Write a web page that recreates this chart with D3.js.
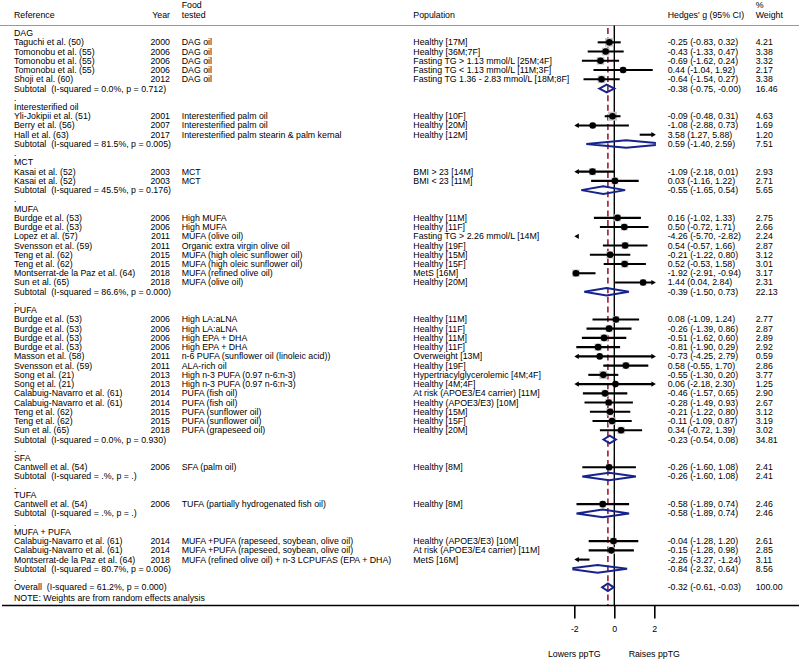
<!DOCTYPE html>
<html><head><meta charset="utf-8">
<script src="https://cdn.jsdelivr.net/npm/d3@7"></script>
<style>
body{margin:0;background:#fff}
text{font-family:"Liberation Sans",Arial,Helvetica,sans-serif;font-size:8.8px;fill:#000;white-space:pre}
</style>
</head><body>
<svg id="chart" width="799" height="660"></svg>
<script>
const groupNames = ["DAG", "Interesterified oil", "MCT", "MUFA", "PUFA", "SFA", "TUFA", "MUFA + PUFA"];

const studyGroup = [0,0,0,0,0, 1,1,1, 2,2, 3,3,3,3,3,3,3,3, 4,4,4,4,4,4,4,4,4,4,4,4,4, 5, 6, 7,7,7];
const studyRefs = [
  "Taguchi et al. (50)", "Tomonobu et al. (55)", "Tomonobu et al. (55)", "Tomonobu et al. (55)", "Shoji et al. (60)",
  "Yli-Jokipii et al. (51)", "Berry et al. (56)", "Hall et al. (63)",
  "Kasai et al. (52)", "Kasai et al. (52)",
  "Burdge et al. (53)", "Burdge et al. (53)", "Lopez et al. (57)", "Svensson et al. (59)", "Teng et al. (62)", "Teng et al. (62)", "Montserrat-de la Paz et al. (64)", "Sun et al. (65)",
  "Burdge et al. (53)", "Burdge et al. (53)", "Burdge et al. (53)", "Burdge et al. (53)", "Masson et al. (58)", "Svensson et al. (59)", "Song et al. (21)", "Song et al. (21)", "Calabuig-Navarro et al. (61)", "Calabuig-Navarro et al. (61)", "Teng et al. (62)", "Teng et al. (62)", "Sun et al. (65)",
  "Cantwell et al. (54)",
  "Cantwell et al. (54)",
  "Calabuig-Navarro et al. (61)", "Calabuig-Navarro et al. (61)", "Montserrat-de la Paz et al. (64)"
];
const studyYears = [
  2000, 2006, 2006, 2006, 2012,
  2001, 2007, 2017,
  2003, 2003,
  2006, 2006, 2011, 2011, 2015, 2015, 2018, 2018,
  2006, 2006, 2006, 2006, 2011, 2011, 2013, 2013, 2014, 2014, 2015, 2015, 2018,
  2006,
  2006,
  2014, 2014, 2018
];
const studyFoods = [
  "DAG oil", "DAG oil", "DAG oil", "DAG oil", "DAG oil",
  "Interesterified palm oil", "Interesterified palm oil", "Interesterified palm stearin & palm kernal",
  "MCT", "MCT",
  "High MUFA", "High MUFA", "MUFA (olive oil)", "Organic extra virgin olive oil", "MUFA (high oleic sunflower oil)", "MUFA (high oleic sunflower oil)", "MUFA (refined olive oil)", "MUFA (olive oil)",
  "High LA:aLNA", "High LA:aLNA", "High EPA + DHA", "High EPA + DHA", "n-6 PUFA (sunflower oil (linoleic acid))", "ALA-rich oil", "High n-3 PUFA (0.97 n-6:n-3)", "High n-3 PUFA (0.97 n-6:n-3)", "PUFA (fish oil)", "PUFA (fish oil)", "PUFA (sunflower oil)", "PUFA (sunflower oil)", "PUFA (grapeseed oil)",
  "SFA (palm oil)",
  "TUFA (partially hydrogenated fish oil)",
  "MUFA +PUFA (rapeseed, soybean, olive oil)", "MUFA +PUFA (rapeseed, soybean, olive oil)", "MUFA (refined olive oil) + n-3 LCPUFAS (EPA + DHA)"
];
const studyPops = [
  "Healthy [17M]", "Healthy [36M;7F]", "Fasting TG > 1.13 mmol/L [25M;4F]", "Fasting TG < 1.13 mmol/L [11M;3F]", "Fasting TG 1.36 - 2.83 mmol/L [18M;8F]",
  "Healthy [10F]", "Healthy [20M]", "Healthy [12M]",
  "BMI > 23 [14M]", "BMI < 23 [11M]",
  "Healthy [11M]", "Healthy [11F]", "Fasting TG > 2.26 mmol/L [14M]", "Healthy [19F]", "Healthy [15M]", "Healthy [15F]", "MetS [16M]", "Healthy [20M]",
  "Healthy [11M]", "Healthy [11F]", "Healthy [11M]", "Healthy [11F]", "Overweight [13M]", "Healthy [19F]", "Hypertriacylglycerolemic [4M;4F]", "Healthy [4M;4F]", "At risk (APOE3/E4 carrier) [11M]", "Healthy (APOE3/E3) [10M]", "Healthy [15M]", "Healthy [15F]", "Healthy [20M]",
  "Healthy [8M]",
  "Healthy [8M]",
  "Healthy (APOE3/E3) [10M]", "At risk (APOE3/E4 carrier) [11M]", "MetS [16M]"
];
const studyES = [
  -0.25, -0.43, -0.69, 0.44, -0.64,
  -0.09, -1.08, 3.58,
  -1.09, 0.03,
  0.16, 0.50, -4.26, 0.54, -0.21, 0.52, -1.92, 1.44,
  0.08, -0.26, -0.51, -0.81, -0.73, 0.58, -0.55, 0.06, -0.46, -0.28, -0.21, -0.11, 0.34,
  -0.26,
  -0.58,
  -0.04, -0.15, -2.26
];
const studyLo = [
  -0.83, -1.33, -1.62, -1.04, -1.54,
  -0.48, -2.88, 1.27,
  -2.18, -1.16,
  -1.02, -0.72, -5.70, -0.57, -1.22, -0.53, -2.91, 0.04,
  -1.09, -1.39, -1.62, -1.90, -4.25, -0.55, -1.30, -2.18, -1.57, -1.49, -1.22, -1.09, -0.72,
  -1.60,
  -1.89,
  -1.28, -1.28, -3.27
];
const studyHi = [
  0.32, 0.47, 0.24, 1.92, 0.27,
  0.31, 0.73, 5.88,
  0.01, 1.22,
  1.33, 1.71, -2.82, 1.66, 0.80, 1.58, -0.94, 2.84,
  1.24, 0.86, 0.60, 0.29, 2.79, 1.70, 0.20, 2.30, 0.65, 0.93, 0.80, 0.87, 1.39,
  1.08,
  0.74,
  1.20, 0.98, -1.24
];
const studyWeight = [
  4.21, 3.38, 3.32, 2.17, 3.38,
  4.63, 1.69, 1.20,
  2.93, 2.71,
  2.75, 2.66, 2.24, 2.87, 3.12, 3.01, 3.17, 2.31,
  2.77, 2.87, 2.89, 2.92, 0.59, 2.86, 3.77, 1.25, 2.90, 2.67, 3.12, 3.19, 3.02,
  2.41,
  2.46,
  2.61, 2.85, 3.11
];

const subtotalHet = ["0.0%, p = 0.712", "81.5%, p = 0.005", "45.5%, p = 0.176", "86.6%, p = 0.000", "0.0%, p = 0.930", ".%, p = .", ".%, p = .", "80.7%, p = 0.006"];
const subtotalES = [-0.38, 0.59, -0.55, -0.39, -0.23, -0.26, -0.58, -0.84];
const subtotalLo = [-0.75, -1.40, -1.65, -1.50, -0.54, -1.60, -1.89, -2.32];
const subtotalHi = [-0.0, 2.59, 0.54, 0.73, 0.08, 1.08, 0.74, 0.64];
const subtotalWeight = [16.46, 7.51, 5.65, 22.13, 34.81, 2.41, 2.46, 8.56];

const overallHet = "61.2%, p = 0.000";
const overallES = -0.32, overallLo = -0.61, overallHi = -0.03, overallWeight = 100.00;

const xTicks = [-2, 0, 2];
const xTickLabels = ["-2", "0", "2"];
const sideLabels = ["Lowers ppTG", "Raises ppTG"];
const headers = {ref: "Reference", year: "Year", food: ["Food", "tested"], pop: "Population", es: "Hedges' g (95% CI)", wt: ["%", "Weight"]};
const noteText = "NOTE: Weights are from random effects analysis";

// ---- layout ----
const W = 799, H = 660;
const svg = d3.select("#chart");
const x = d3.scaleLinear().domain([-2, 2]).range([574.3, 654.3]);
const clipMin = -2, clipMax = 2.08;
const y = d3.scaleLinear().domain([0, 60]).range([33.1, 587.3]);
const col = {ref: 14, year: 170, food: 181.7, pop: 413.3, es: 667.7, wt: 755.7};
const navy = "#16238c", red = "#9e1b32";
const f2 = v => ((v < 0 || Object.is(v, -0)) ? "-" : "") + Math.abs(v).toFixed(2);
const ciText = (e, l, h) => `${f2(e)} (${f2(l)}, ${f2(h)})`;

// build rows
const rows = [];
let r = 0;
groupNames.forEach((g, gi) => {
  rows.push({type: "header", label: g, row: r++});
  studyGroup.forEach((sg, i) => {
    if (sg === gi) rows.push({type: "study", i, row: r++});
  });
  rows.push({type: "subtotal", gi, row: r++});
  rows.push({type: "blank", row: r++});
});
rows.push({type: "overall", row: r++});
rows.push({type: "note", row: r++});

const baseY = row => y(row) + 3;

// header
const hg = svg.append("g");
const ht = (t, xx, yy, anchor) => hg.append("text").attr("x", xx).attr("y", yy).attr("text-anchor", anchor || "start").text(t);
ht(headers.ref, col.ref, 17.6);
ht(headers.year, col.year, 17.6, "end");
ht(headers.food[0], col.food, 8.2);
ht(headers.food[1], col.food, 17.6);
ht(headers.pop, col.pop, 17.6);
ht(headers.es, col.es, 17.6);
ht(headers.wt[0], col.wt, 8.2);
ht(headers.wt[1], col.wt, 17.6);
svg.append("line").attr("x1", 0).attr("x2", W).attr("y1", 25.5).attr("y2", 25.5)
  .attr("stroke", "#999").attr("stroke-width", 1.1);

// reference lines
const yBottom = 605.5;
svg.append("line").attr("x1", x(0)).attr("x2", x(0)).attr("y1", 25.5).attr("y2", yBottom)
  .attr("stroke", "#000").attr("stroke-width", 1.4);
svg.append("line").attr("x1", x(overallES)).attr("x2", x(overallES)).attr("y1", 28).attr("y2", yBottom)
  .attr("stroke", red).attr("stroke-width", 1.6).attr("stroke-dasharray", "6,3.6");

// clip for diamonds
svg.append("defs").append("clipPath").attr("id", "plotclip").append("rect")
  .attr("x", x(clipMin) - 2).attr("y", 0).attr("width", x(clipMax) - x(clipMin) + 2).attr("height", H);

const tg = svg.append("g");
const marks = svg.append("g");
const txt = (t, xx, yy, anchor) => tg.append("text").attr("x", xx).attr("y", yy).attr("text-anchor", anchor || "start").text(t);

function arrowHead(xTip, yc, dir) {
  const len = 4.5, hw = 2.6;
  marks.append("path")
    .attr("d", `M${xTip},${yc} L${xTip - dir * len},${yc - hw} L${xTip - dir * len},${yc + hw} Z`)
    .attr("fill", "#000");
}

function diamond(e, l, h, yc) {
  const hh = 3.8;
  marks.append("path")
    .attr("d", `M${x(l)},${yc} L${x(e)},${yc - hh} L${x(h)},${yc} L${x(e)},${yc + hh} Z`)
    .attr("fill", "none").attr("stroke", navy).attr("stroke-width", 2)
    .attr("stroke-linejoin", "miter").attr("clip-path", "url(#plotclip)");
}

rows.forEach(d => {
  const yc = y(d.row), yb = baseY(d.row);
  if (d.type === "header") {
    txt(d.label, col.ref, yb);
  } else if (d.type === "blank") {
    txt(".", col.ref, yb);
  } else if (d.type === "study") {
    const i = d.i;
    txt(studyRefs[i], col.ref, yb);
    txt(studyYears[i], col.year, yb, "end");
    txt(studyFoods[i], col.food, yb);
    txt(studyPops[i], col.pop, yb);
    txt(ciText(studyES[i], studyLo[i], studyHi[i]), col.es, yb);
    txt(studyWeight[i].toFixed(2), col.wt, yb);
    const e = studyES[i], l = studyLo[i], h = studyHi[i];
    if (h < clipMin) { arrowHead(x(clipMin), yc, -1); return; }
    if (l > clipMax) { arrowHead(x(clipMax), yc, 1); return; }
    const l2 = Math.max(l, clipMin), h2 = Math.min(h, clipMax);
    const inRange = e >= clipMin && e <= clipMax;
    if (inRange) {
      const s = 4.2 * Math.sqrt(studyWeight[i]);
      marks.append("rect").attr("x", x(e) - s / 2).attr("y", yc - s / 2).attr("width", s).attr("height", s)
        .attr("fill", "#c4c4c4");
    }
    const lx1 = x(l2) + (l < clipMin ? 3 : 0), lx2 = x(h2) - (h > clipMax ? 3 : 0);
    marks.append("line").attr("x1", lx1).attr("x2", lx2).attr("y1", yc).attr("y2", yc)
      .attr("stroke", "#000").attr("stroke-width", 2.1);
    if (l < clipMin) arrowHead(x(clipMin), yc, -1);
    if (h > clipMax) arrowHead(x(clipMax), yc, 1);
    if (inRange) marks.append("circle").attr("cx", x(e)).attr("cy", yc).attr("r", 3.3).attr("fill", "#000");
  } else if (d.type === "subtotal") {
    const g = d.gi;
    txt(`Subtotal  (I-squared = ${subtotalHet[g]})`, col.ref, yb);
    txt(ciText(subtotalES[g], subtotalLo[g], subtotalHi[g]), col.es, yb);
    txt(subtotalWeight[g].toFixed(2), col.wt, yb);
    diamond(subtotalES[g], subtotalLo[g], subtotalHi[g], yc);
  } else if (d.type === "overall") {
    txt(`Overall  (I-squared = ${overallHet})`, col.ref, yb);
    txt(ciText(overallES, overallLo, overallHi), col.es, yb);
    txt(overallWeight.toFixed(2), col.wt, yb);
    diamond(overallES, overallLo, overallHi, yc);
  } else if (d.type === "note") {
    txt(noteText, col.ref, yb + 1.5);
  }
});

// x axis
svg.append("line").attr("x1", 2).attr("x2", W).attr("y1", yBottom).attr("y2", yBottom)
  .attr("stroke", "#000").attr("stroke-width", 1.3);
const axis = d3.axisBottom(x).tickValues(xTicks).tickFormat((v, k) => xTickLabels[k]).tickSize(13).tickPadding(7);
const ag = svg.append("g").attr("transform", `translate(0,${yBottom})`).call(axis);
ag.select(".domain").remove();
ag.selectAll(".tick line").attr("stroke", "#000").attr("stroke-width", 1.6);
ag.attr("font-size", null).attr("font-family", null);

svg.append("text").attr("x", x(-2)).attr("y", 657).attr("text-anchor", "middle").text(sideLabels[0]);
svg.append("text").attr("x", x(2)).attr("y", 657).attr("text-anchor", "middle").text(sideLabels[1]);
</script>
</body></html>
